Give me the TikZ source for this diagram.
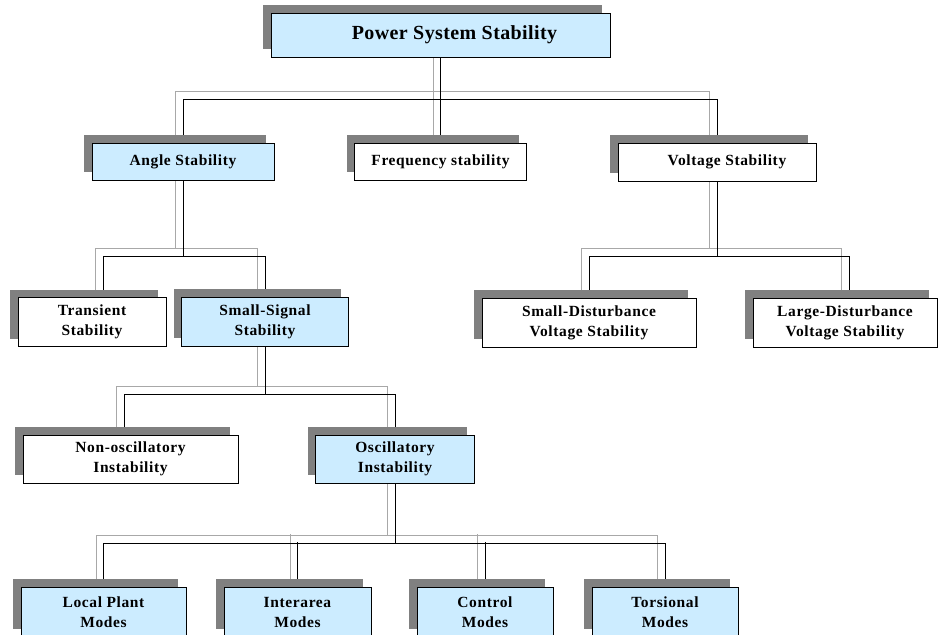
\documentclass[tikz,border=0pt]{standalone}
\usepackage{fontspec}
\setmainfont{Liberation Serif}[LetterSpace=4]
\usetikzlibrary{shadows,backgrounds}
\definecolor{boxblue}{HTML}{CCECFF}
\definecolor{shadegray}{HTML}{808080}
\definecolor{linegray}{HTML}{A8A8A8}

\begin{document}
\begin{tikzpicture}[x=1pt,y=-1pt,
  box/.style={draw=black,line width=0.9pt,fill=white,inner sep=0pt,align=center,
    font=\bfseries\fontsize{15.5}{20}\selectfont,
    drop shadow={shadow xshift=-8pt,shadow yshift=8pt,fill=shadegray,opacity=1}},
  bluebox/.style={box,fill=boxblue},
  link/.style={draw=black,line width=1pt},
  linkshade/.style={draw=linegray,line width=1pt,transform canvas={shift={(-7.5,-7.5)}}}]
\useasboundingbox (0,0) rectangle (938,635);
% top
\node[bluebox,minimum width=339pt,minimum height=44pt,font=\bfseries\fontsize{20}{24}\selectfont\addfontfeature{LetterSpace=2}] (root) at (440.5,35) {\hspace*{28pt}Power System Stability};
% first level
\node[bluebox,minimum width=182pt,minimum height=37pt] (ang) at (183,161.5) {Angle Stability};
\node[box,minimum width=172pt,minimum height=37pt] (freq) at (440.5,161.5) {Frequency stability};
\node[box,minimum width=198pt,minimum height=38pt] (volt) at (717,162) {\hspace*{20pt}Voltage Stability};
% second level
\node[box,minimum width=148pt,minimum height=49pt] (tra) at (92,322) {Transient\\Stability};
\node[bluebox,minimum width=167pt,minimum height=49pt] (sss) at (265,321.5) {Small-Signal\\Stability};
\node[box,minimum width=214pt,minimum height=49pt] (sdv) at (589,322.5) {Small-Disturbance\\Voltage Stability};
\node[box,minimum width=184pt,minimum height=49pt] (ldv) at (845,322.5) {Large-Disturbance\\Voltage Stability};
% third level
\node[box,minimum width=215pt,minimum height=48pt] (nos) at (130.5,459) {Non-oscillatory\\Instability};
\node[bluebox,minimum width=159pt,minimum height=48pt] (osc) at (395,459) {Oscillatory\\Instability};
% modes
\node[bluebox,minimum width=165pt,minimum height=50pt] (lpm) at (103.5,612) {Local Plant\\Modes};
\node[bluebox,minimum width=147pt,minimum height=50pt] (iam) at (297.5,612) {Interarea\\Modes};
\node[bluebox,minimum width=136pt,minimum height=50pt] (ctm) at (485,612) {Control\\Modes};
\node[bluebox,minimum width=146pt,minimum height=50pt] (tom) at (665,612) {Torsional\\Modes};
% connectors, grey copy first
\begin{pgfonlayer}{background}
\draw[linkshade] (root.south) -- (freq.north);
\draw[linkshade] (root.south) ++(0,42) -| (ang.north);
\draw[linkshade] (root.south) ++(0,42) -| (volt.north);
\draw[linkshade] (ang.south) -- ++(0,76) -| ([xshift=11pt]tra.north);
\draw[linkshade] (ang.south) ++(0,76) -| (sss.north);
\draw[linkshade] (volt.south) -- ++(0,75) -| (sdv.north);
\draw[linkshade] (volt.south) ++(0,75) -| ([xshift=4pt]ldv.north);
\draw[linkshade] (sss.south) -- ++(0,48) -| ([xshift=-6.5pt]nos.north);
\draw[linkshade] (sss.south) ++(0,48) -| (osc.north);
\draw[linkshade] (osc.south) -- ++(0,60) -| (lpm.north);
\draw[linkshade] (osc.south) ++(0,60) -| (tom.north);
\draw[linkshade] (iam.north) -- ++(0,-45);
\draw[linkshade] (ctm.north) -- ++(0,-45);
\draw[link] (root.south) -- (freq.north);
\draw[link] (root.south) ++(0,42) -| (ang.north);
\draw[link] (root.south) ++(0,42) -| (volt.north);
\draw[link] (ang.south) -- ++(0,76) -| ([xshift=11pt]tra.north);
\draw[link] (ang.south) ++(0,76) -| (sss.north);
\draw[link] (volt.south) -- ++(0,75) -| (sdv.north);
\draw[link] (volt.south) ++(0,75) -| ([xshift=4pt]ldv.north);
\draw[link] (sss.south) -- ++(0,48) -| ([xshift=-6.5pt]nos.north);
\draw[link] (sss.south) ++(0,48) -| (osc.north);
\draw[link] (osc.south) -- ++(0,60) -| (lpm.north);
\draw[link] (osc.south) ++(0,60) -| (tom.north);
\draw[link] (iam.north) -- ++(0,-45);
\draw[link] (ctm.north) -- ++(0,-45);
\end{pgfonlayer}
\end{tikzpicture}
\end{document}
